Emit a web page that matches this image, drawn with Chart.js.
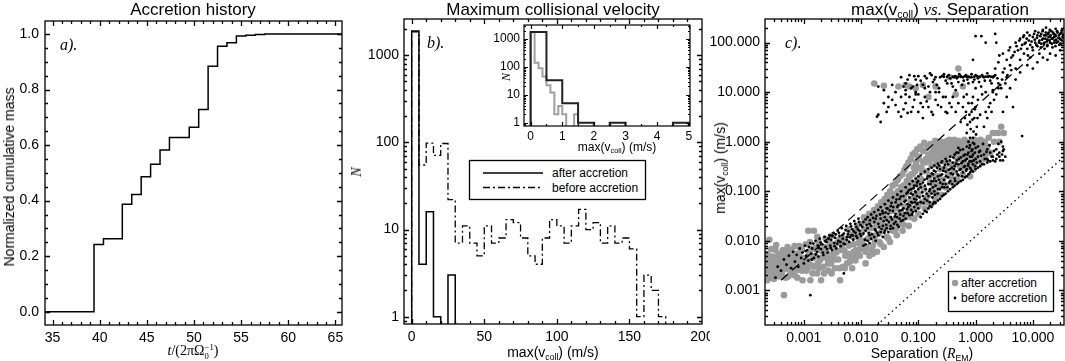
<!DOCTYPE html>
<html lang="en">
<head>
<meta charset="UTF-8">
<title>Accretion history and collisional velocity</title>
<script src="https://cdn.jsdelivr.net/npm/chart.js"></script>
<style>
  body { margin:0; background:#fff; width:1065px; height:361px; position:relative; overflow:hidden;
         font-family:"Liberation Sans", Arial, sans-serif; color:#000; }
  canvas { position:absolute; }
  .lbl { position:absolute; white-space:nowrap; transform:translate(-50%,-50%); line-height:1; }
  .left { transform:translate(0,-50%); }
  .rot { transform:translate(-50%,-50%) rotate(-90deg); }
  .title { font-size:17px; }
  .axt { font-size:14px; }
  .small { font-size:12px; }
  .serif { font-family:"Liberation Serif","DejaVu Serif",serif; }
  .it { font-style:italic; }
  .sb { font-size:0.62em; position:relative; top:0.3em; }
  .stk { display:inline-flex; flex-direction:column; vertical-align:middle; font-size:0.62em; line-height:1.05; }
  svg { position:absolute; overflow:visible; }
  svg text { font-family:"Liberation Sans", Arial, sans-serif; font-size:12px; }
</style>
</head>
<body>
<canvas id="chartA" width="355" height="361" style="left:0;top:0"></canvas>
<canvas id="chartB" width="360" height="361" style="left:350px;top:0"></canvas>
<canvas id="chartC" width="355" height="361" style="left:710px;top:0"></canvas>
<canvas id="chartInset" width="225" height="140" style="left:470px;top:20px"></canvas>

<!-- titles and axis titles -->
<div class="lbl title" style="left:193px;top:9px">Accretion history</div>
<div class="lbl title" style="left:553px;top:9px">Maximum collisional velocity</div>
<div class="lbl title" style="left:940px;top:9px">max(v<span class="sb">coll</span>) <span class="serif it">vs.</span> Separation</div>

<div class="lbl axt rot" style="left:9px;top:177px">Normalized cumulative mass</div>
<div class="lbl axt serif" style="left:193px;top:352px"><span class="it">t</span>/(2πΩ<span class="stk"><span>−1</span><span>0</span></span>)</div>

<div class="lbl axt serif it rot" style="left:357px;top:172px">N</div>
<div class="lbl axt" style="left:553px;top:352px">max(v<span class="sb">coll</span>) (m/s)</div>

<div class="lbl axt rot" style="left:720px;top:168px">max(v<span class="sb">coll</span>) (m/s)</div>
<div class="lbl axt" style="left:922px;top:353px">Separation (<span class="serif it">R</span><span class="sb">EM</span>)</div>

<div class="lbl small serif it rot" style="left:506px;top:77px">N</div>
<div class="lbl small" style="left:617px;top:147px">max(v<span class="sb">coll</span>) (m/s)</div>

<div class="lbl serif it left" style="left:60px;top:45px;font-size:16px">a).</div>
<div class="lbl serif it left" style="left:427px;top:43px;font-size:16px">b).</div>
<div class="lbl serif it left" style="left:785px;top:43px;font-size:16px">c).</div>

<!-- legends -->
<svg style="left:469px;top:160px" width="177" height="40">
  <rect x="0.5" y="0.5" width="176" height="39" fill="#fff" stroke="#000" stroke-width="1.3"/>
  <line x1="14" y1="13" x2="74" y2="13" stroke="#000" stroke-width="1.3"/>
  <text x="83" y="17">after accretion</text>
  <line x1="14" y1="27.5" x2="74" y2="27.5" stroke="#000" stroke-width="1.3" stroke-dasharray="7,3,2,3"/>
  <text x="83" y="31.5">before accretion</text>
</svg>
<svg style="left:948px;top:271px" width="106" height="41">
  <rect x="0.5" y="0.5" width="105" height="40" fill="#fff" stroke="#000" stroke-width="1.3"/>
  <circle cx="7" cy="12" r="3.2" fill="rgb(155,155,155)"/>
  <text x="13" y="16">after accretion</text>
  <circle cx="7" cy="27" r="1.4" fill="#000"/>
  <text x="13" y="31">before accretion</text>
</svg>

<script>
// ---- panel a: accretion history (step curve) ----
const accretionTimes = [34.2, 39.4, 40.4, 42.4, 43.4, 44.4, 45.4, 46.4, 47.4, 49.5, 50.5, 51.5, 52.5, 53.5, 54.5, 55.5, 56.5, 57.5, 65.7];
const cumulativeMass = [0, 0.242, 0.263, 0.387, 0.422, 0.486, 0.531, 0.582, 0.627, 0.664, 0.728, 0.884, 0.956, 0.969, 0.993, 0.996, 0.998, 1.0, 1.0];

// ---- panel b: histogram of max collisional velocity, 5 m/s bins ----
const velocityEdges = [0,5,10,15,20,25,30,35,40,45,50,55,60,65,70,75,80,85,90,95,100,105,110,115,120,125,130,135,140,145,150,155,160,165,170,175];
const countsAfter  = [1900,4,16,1,0,3,0,0,0,0,0,0,0,0,0,0,0,0,0,0,0,0,0,0,0,0,0,0,0,0,0,0,0,0,0];
const countsBefore = [1850,55,98,71,97,22,7,11,7,5,11,7,8,13,12,8,5,4,8,13,11,7,11,17,10,12,7,11,7,8,6,1,3,2,1];

// ---- inset: low-velocity zoom ----
const insetFineEdges   = [0,0.125,0.25,0.375,0.5,0.625,0.75,0.875,1,1.125,1.25,1.375,1.5];
const insetFineCounts  = [1800,140,90,45,22,12,2,4,2,0,0,2];
const insetCoarseEdges = [0,0.5,1,1.5,2,2.5,3,3.5,4,4.5,5];
const insetCoarseCounts = [1800,33,5,1,0,1,0,0,0,1];

// ---- panel c: max(vcoll) vs separation ----
const afterAccretionPts = [
  [2.2e-4,.0025],[2.2e-4,.0045],[2.3e-4,.0016],[2.5e-4,.0032],[2.5e-4,.0105],[2.7e-4,.0022],[2.8e-4,.0048],[3e-4,.0017],[3e-4,.003],
  [3.2e-4,.0065],[3.3e-4,.0024],[3.5e-4,.004],[3.7e-4,.0019],[3.8e-4,.003],[4e-4,.0055],[4.2e-4,.0025],[4.5e-4,.0035],[4.5e-4,.0008],
  [4.8e-4,.0018],[5e-4,.0045],[5.3e-4,.0028],[5.5e-4,.0062],[5.8e-4,.0022],[6e-4,.0038],[6.5e-4,.003],[6.8e-4,.005],[7e-4,.002],
  [7.5e-4,.0042],[8e-4,.0026],[8.5e-4,.006],[9e-4,.0033],[9.5e-4,.0016],[1e-3,.0045],
  [2.4e-4,.0019],[2.6e-4,.0038],[2.9e-4,.0026],[3.1e-4,.0044],[3.4e-4,.0032],[3.6e-4,.0052],[4.1e-4,.0034],[4.4e-4,.0046],
  [4.7e-4,.0027],[5.1e-4,.0036],[5.6e-4,.0042],[6.2e-4,.0028],[6.6e-4,.0045],[7.2e-4,.0032],[7.8e-4,.0055],[8.2e-4,.0036],
  [8.8e-4,.0046],[9.3e-4,.0025],
  [2.1e-4,.0035],[2.3e-4,.0055],[2.4e-4,.0028],[2.6e-4,.0018],[2.7e-4,.0068],[2.9e-4,.004],[3.1e-4,.0021],[3.3e-4,.0082],
  [3.4e-4,.0048],[3.6e-4,.0026],[3.9e-4,.0042],[4.1e-4,.0021],[4.3e-4,.0065],[4.6e-4,.0052],[4.9e-4,.0032],[5.2e-4,.0075],
  [5.4e-4,.0019],[5.7e-4,.0052],[6.1e-4,.0065],[6.4e-4,.0024],[6.9e-4,.0078],[7.3e-4,.0055],[7.7e-4,.0018],[8.3e-4,.0078],
  [8.7e-4,.0028],[9.2e-4,.0068],[9.8e-4,.0028],
  [1.1e-3,.0025],[1.2e-3,.016],[1.2e-3,.004],[1.3e-3,.0016],[1.4e-3,.007],[1.5e-3,.003],[1.5e-3,.016],[1.6e-3,.005],[1.7e-3,.0022],
  [1.8e-3,.0095],[1.9e-3,.004],[2e-3,.0016],[2.1e-3,.006],[2.2e-3,.003],[2.4e-3,.011],[2.5e-3,.0045],[2.7e-3,.0025],[2.8e-3,.0075],
  [3e-3,.0035],[3.2e-3,.013],[3.3e-3,.0055],[3.5e-3,.0028],[3.8e-3,.009],[4e-3,.0042],[4.3e-3,.0016],[4.5e-3,.0065],[4.8e-3,.003],
  [5e-3,.011],[5.3e-3,.005],[5.7e-3,.0035],[6e-3,.017],[6.2e-3,.008],[6.5e-3,.0045],[7e-3,.0028],[7.2e-3,.012],[7.5e-3,.006],
  [8e-3,.004],[8.5e-3,.02],[9e-3,.009],[9.5e-3,.005],[1e-2,.014],
  [1.05e-3,.0035],[1.25e-3,.0055],[1.35e-3,.0032],[1.45e-3,.0045],[1.65e-3,.0072],[1.75e-3,.0035],[1.95e-3,.0065],[2.05e-3,.0045],
  [2.3e-3,.0075],[2.6e-3,.0055],[2.9e-3,.009],[3.1e-3,.0045],[3.4e-3,.0075],[3.7e-3,.0058],[4.1e-3,.0105],[4.6e-3,.0085],
  [5.1e-3,.0065],[5.5e-3,.0095],[6.1e-3,.0055],[6.7e-3,.013],[7.4e-3,.0085],[7.9e-3,.016],[8.2e-3,.0065],[8.8e-3,.012],[9.7e-3,.0085],
  [1.08e-3,.0085],[1.18e-3,.0028],[1.28e-3,.0095],[1.42e-3,.0022],[1.55e-3,.0068],[1.72e-3,.012],[1.85e-3,.0028],[2.25e-3,.0022],
  [2.45e-3,.0068],[2.65e-3,.0035],[3.05e-3,.0022],[3.6e-3,.0042],[4.2e-3,.0028],[5.2e-3,.0028],[6.4e-3,.0038],[7.7e-3,.0052],
  [9.2e-3,.0065],
  [1.1e-2,.007],[1.2e-2,.0035],[1.2e-2,.025],[1.3e-2,.011],[1.4e-2,.005],[1.5e-2,.018],[1.6e-2,.008],[1.7e-2,.035],[1.8e-2,.013],
  [1.9e-2,.006],[2e-2,.025],[2.1e-2,.0095],[2.2e-2,.045],[2.3e-2,.016],[2.5e-2,.0075],[2.6e-2,.03],[2.8e-2,.012],[3e-2,.06],[3e-2,.02],
  [3.2e-2,.0095],[3.4e-2,.04],[3.6e-2,.016],[3.8e-2,.085],[4e-2,.028],[4.2e-2,.013],[4.5e-2,.055],[4.7e-2,.022],[5e-2,.12],[5e-2,.038],
  [5.3e-2,.016],[5.6e-2,.075],[6e-2,.03],[6.3e-2,.16],[6.5e-2,.05],[6.8e-2,.02],[7e-2,.1],[7.5e-2,.04],[8e-2,.22],[8e-2,.07],
  [8.5e-2,.028],[9e-2,.14],[9.5e-2,.05],[.1,.3],[.1,.09],[.1,.035],
  [1.05e-2,.01],[1.15e-2,.017],[1.25e-2,.0075],[1.35e-2,.021],[1.45e-2,.013],[1.55e-2,.0065],[1.65e-2,.025],[1.75e-2,.01],
  [1.85e-2,.02],[1.95e-2,.035],[2.05e-2,.014],[2.15e-2,.03],[2.4e-2,.022],[2.45e-2,.055],[2.7e-2,.018],[2.9e-2,.04],[3.1e-2,.028],
  [3.3e-2,.07],[3.5e-2,.025],[3.7e-2,.05],[3.9e-2,.02],[4.1e-2,.045],[4.4e-2,.1],[4.6e-2,.033],[4.9e-2,.065],[5.2e-2,.028],
  [5.5e-2,.13],[5.8e-2,.05],[6.1e-2,.09],[6.6e-2,.036],[6.9e-2,.2],[7.3e-2,.065],[7.8e-2,.13],[8.3e-2,.045],[8.8e-2,.25],
  [9.2e-2,.085],[9.8e-2,.17],
  [.0102,.022],[.0112,.03],[.0128,.026],[.0138,.035],[.0152,.03],[.0168,.042],[.0182,.028],[.0198,.05],[.0212,.04],[.0225,.06],
  [.0242,.035],[.0258,.07],[.0272,.05],[.0288,.085],[.0302,.045],[.0322,.1],[.0338,.06],[.0355,.13],[.0372,.075],[.0395,.14],
  [.0418,.09],[.0438,.17],[.0458,.075],[.0478,.2],[.0505,.1],[.0528,.22],[.0545,.085],[.0572,.27],[.0592,.13],[.0618,.32],
  [.0645,.11],[.0672,.38],[.0705,.17],[.0735,.45],[.0762,.22],[.0795,.55],[.0835,.3],[.0865,.6],[.0905,.38],[.0955,.7],[.0985,.45],
  [.012,.006],[.016,.0055],[.022,.0085],[.03,.011],[.04,.017],[.055,.021],[.075,.03],[.1,.05],[.14,.06],[.2,.09],[.3,.13],
  [.11,.18],[.115,.06],[.12,.4],[.125,.11],[.13,.045],[.14,.25],[.145,.08],[.15,.55],[.16,.15],[.165,.055],[.17,.33],[.18,.1],
  [.19,.7],[.2,.2],[.2,.07],[.21,.45],[.22,.13],[.23,.9],[.24,.28],[.25,.085],[.26,.55],[.27,.17],[.28,.4],[.3,1.0],[.3,.12],
  [.32,.65],[.33,.22],[.35,1.1],[.36,.35],[.38,.15],[.4,.75],[.42,.25],[.45,.5],[.48,.18],[.5,.9],[.53,.32],[.56,.6],[.6,.22],
  [.63,.45],[.67,1.0],[.7,.3],[.75,.65],[.8,.2],[.85,.45],[.9,.9],[.95,.35],[1.0,.6],[1.1,1.0],[1.2,.4],[1.3,.75],[1.5,.55],
  [1.7,1.2],[2.0,1.5],[2.3,1.5],[2.8,2.0],
  [.105,.13],[.118,.25],[.135,.07],[.138,.45],[.155,.2],[.175,.6],[.185,.13],[.205,.35],[.215,.8],[.225,.2],[.245,.6],[.255,.14],
  [.275,.75],[.29,.28],[.31,.5],[.34,.85],[.37,.2],[.39,.55],[.43,.9],[.44,.35],[.47,.7],[.52,.45],[.55,.8],[.58,.3],[.62,.7],
  [.65,.35],[.72,.5],[.78,.8],[.82,.38],[.88,.6],[.92,.28],[1.05,.45],[1.15,.7],[1.25,.9],[1.4,.45],[1.6,.8],[1.8,.6],[2.1,1.0],
  [2.5,1.5],[2.6,1.0],[3.1,1.5],
  [.102,.5],[.108,.8],[.113,.3],[.122,.65],[.127,.95],[.132,.38],[.143,.75],[.152,.42],[.162,.9],[.168,.5],[.178,.8],[.192,.45],
  [.198,1.05],[.208,.6],[.218,.42],[.235,.7],[.248,1.0],[.262,.45],[.282,.9],[.295,.6],[.308,.75],[.325,1.05],[.345,.55],
  [.365,.8],[.385,.95],[.41,.65],[.425,1.1],[.45,.75],[.49,.6],[.505,1.05],[.535,.8],[.575,.9],[.595,.55],[.64,1.1],[.69,.7],
  [.73,.95],[.77,.55],[.84,1.0],[.91,.7],[.96,1.1],[1.02,.85],[1.12,.55],[1.22,1.1],[1.35,.6],[1.45,1.0],[1.55,.7],
  [.017,15],[.025,13.5],[.045,13],[.06,14],[.07,13],[.09,12],[.12,14],[.15,8],[.2,13],[.45,9],[.5,30],[.6,13],[.35,20]
];
const beforeAccretionPts = [
  [3.2e-4,.0018],[3.5e-4,.003],[4e-4,.0025],[4.5e-4,.0042],[5e-4,.0033],[5.5e-4,.005],[6e-4,.0028],[6.5e-4,.006],[7e-4,.0038],
  [7.5e-4,.0052],[8e-4,.003],[8.5e-4,.007],[9e-4,.0045],[9.5e-4,.0058],[1e-3,.0035],
  [1.05e-3,.008],[1.1e-3,.005],[1.15e-3,.0065],[1.2e-3,.004],[1.3e-3,.009],[1.3e-3,.0008],[1.35e-3,.0055],[1.4e-3,.007],[1.5e-3,.0045],
  [1.6e-3,.01],[1.7e-3,.006],[1.75e-3,.008],[1.8e-3,.0048],[1.9e-3,.011],[2e-3,.0068],[2.1e-3,.0085],[2.2e-3,.0052],[2.3e-3,.012],
  [2.4e-3,.0075],[2.5e-3,.0095],[2.6e-3,.0058],[2.8e-3,.013],[2.9e-3,.008],[3e-3,.0105],[3.1e-3,.0065],[3.3e-3,.0145],[3.4e-3,.009],
  [3.5e-3,.0115],[3.7e-3,.007],[3.9e-3,.016],[4e-3,.01],[4.2e-3,.0125],[4.4e-3,.0078],[4.6e-3,.018],[4.8e-3,.011],[5e-3,.014],
  [5e-3,.0022],[5.2e-3,.0085],[5.5e-3,.02],[5.7e-3,.012],[6e-3,.0155],[6.2e-3,.0095],[6.5e-3,.022],[6.8e-3,.013],[7e-3,.017],
  [7.3e-3,.0105],[7.6e-3,.025],[8e-3,.0145],[8.3e-3,.019],[8.6e-3,.0115],[9e-3,.028],[9.4e-3,.016],[9.8e-3,.021],[1e-2,.0125],
  [1.07e-3,.0062],[1.23e-3,.0075],[1.38e-3,.0042],[1.47e-3,.0088],[1.62e-3,.0053],[1.84e-3,.0072],[1.97e-3,.0092],[2.15e-3,.0058],
  [2.37e-3,.0098],[2.55e-3,.0068],[2.72e-3,.011],[2.95e-3,.0072],[3.15e-3,.0125],[3.45e-3,.0078],[3.62e-3,.0135],[3.85e-3,.0088],
  [4.1e-3,.0145],[4.35e-3,.0095],[4.7e-3,.013],[4.95e-3,.0088],[5.35e-3,.0165],[5.6e-3,.0105],[5.9e-3,.0135],[6.35e-3,.0118],
  [6.7e-3,.0195],[7.15e-3,.0128],[7.45e-3,.0155],[7.9e-3,.022],[8.2e-3,.0125],[8.8e-3,.017],[9.2e-3,.024],[9.6e-3,.0138],
  [.011,.008],[.011,.014],[.011,.024],[.012,.0085],[.012,.016],[.012,.027],[.013,.01],[.013,.018],[.013,.03],[.014,.009],[.014,.013],
  [.014,.022],[.015,.011],[.015,.02],[.015,.034],[.017,.012],[.017,.024],[.017,.038],[.018,.01],[.018,.016],[.018,.028],[.02,.013],
  [.02,.022],[.02,.042],[.022,.015],[.022,.028],[.022,.048],[.024,.012],[.024,.02],[.024,.036],[.026,.016],[.026,.03],[.026,.055],
  [.028,.018],[.028,.026],[.028,.045],[.03,.015],[.03,.035],[.03,.065],[.033,.02],[.033,.03],[.033,.05],[.036,.018],[.036,.04],
  [.036,.075],[.04,.024],[.04,.035],[.04,.06],[.043,.021],[.043,.048],[.043,.085],[.047,.028],[.047,.04],[.047,.07],[.05,.025],
  [.05,.055],[.05,.1],[.055,.032],[.055,.045],[.055,.08],[.06,.028],[.06,.065],[.06,.12],[.065,.036],[.065,.055],[.065,.095],
  [.07,.033],[.07,.075],[.07,.14],[.075,.042],[.075,.06],[.075,.11],[.08,.038],[.08,.085],[.08,.16],[.085,.048],[.085,.07],
  [.085,.13],[.09,.04],[.09,.095],[.09,.18],[.095,.055],[.095,.08],[.095,.15],[.1,.045],[.1,.11],[.1,.2],
  [.0105,.019],[.0117,.0105],[.0125,.021],[.0136,.0145],[.0143,.026],[.0155,.0135],[.0162,.029],[.0175,.017],[.0186,.032],
  [.0193,.0145],[.0208,.019],[.0215,.034],[.0228,.0175],[.0236,.04],[.0247,.025],[.0255,.0145],[.0268,.037],[.0275,.021],
  [.029,.045],[.0305,.024],[.0318,.041],[.0325,.0175],[.034,.058],[.0348,.027],[.0365,.048],[.0375,.022],[.039,.031],[.0415,.068],
  [.0425,.03],[.0445,.052],[.0455,.019],[.0485,.034],[.0495,.078],[.052,.042],[.054,.026],[.0575,.062],[.0585,.036],[.062,.09],
  [.0635,.043],[.067,.048],[.0685,.105],[.072,.052],[.0745,.09],[.0775,.034],[.079,.058],[.0825,.115],[.0875,.06],[.088,.1],
  [.0925,.068],[.0935,.13],[.097,.058],[.099,.16],
  [.11,.03],[.11,.06],[.11,.12],[.11,.22],[.12,.035],[.12,.08],[.12,.15],[.13,.04],[.13,.07],[.13,.13],[.13,.25],[.14,.038],
  [.14,.09],[.14,.18],[.15,.045],[.15,.08],[.15,.14],[.15,.28],[.16,.05],[.16,.11],[.16,.2],[.17,.048],[.17,.09],[.17,.16],
  [.17,.3],[.18,.055],[.18,.12],[.18,.22],[.19,.06],[.19,.1],[.19,.18],[.19,.33],[.2,.058],[.2,.13],[.2,.25],[.22,.065],[.22,.11],
  [.22,.2],[.22,.36],[.24,.07],[.24,.15],[.24,.28],[.26,.08],[.26,.12],[.26,.22],[.26,.4],[.28,.085],[.28,.17],[.28,.3],[.3,.09],
  [.3,.14],[.3,.25],[.3,.45],[.33,.1],[.33,.19],[.33,.35],[.36,.11],[.36,.16],[.36,.28],[.36,.5],[.4,.12],[.4,.22],[.4,.38],
  [.43,.13],[.43,.18],[.43,.32],[.43,.55],[.47,.14],[.47,.25],[.47,.42],[.5,.15],[.5,.21],[.5,.35],[.5,.6],[.5,.75],[.55,.16],
  [.55,.28],[.55,.48],[.6,.17],[.6,.24],[.6,.4],[.6,.7],[.65,.19],[.65,.32],[.65,.55],[.7,.2],[.7,.28],[.7,.45],[.7,.8],[.75,.22],
  [.75,.36],[.75,.6],[.8,.24],[.8,.3],[.8,.5],[.8,.85],[.85,.26],[.85,.4],[.85,.65],[.9,.25],[.9,.35],[.9,.55],[.9,.95],[1.0,.28],
  [1.0,.45],[1.0,.75],[1.1,.3],[1.1,.5],[1.1,.8],[1.2,.32],[1.2,.4],[1.2,.65],[1.4,.35],[1.4,.55],[1.6,.38],[1.6,.45],[1.6,.7],
  [1.8,.4],[1.8,.6],[2.0,.42],[2.0,.5],[2.3,.45],[2.3,.7],[2.6,.5],[2.6,.6],[3.0,.42],[3.0,.65],[3.0,.8],
  [.105,.075],[.108,.14],[.117,.095],[.123,.058],[.128,.17],[.135,.11],[.142,.065],[.148,.2],[.155,.1],[.158,.06],[.163,.14],
  [.172,.23],[.176,.075],[.183,.16],[.187,.26],[.195,.085],[.205,.16],[.212,.3],[.218,.09],[.228,.17],[.232,.33],[.238,.11],
  [.245,.21],[.252,.38],[.265,.14],[.272,.26],[.285,.12],[.292,.34],[.305,.2],[.315,.4],[.322,.12],[.338,.27],[.345,.15],
  [.355,.42],[.37,.23],[.385,.3],[.392,.14],[.41,.48],[.418,.28],[.44,.16],[.455,.36],[.462,.6],[.485,.22],[.51,.45],[.525,.27],
  [.54,.68],[.565,.37],[.58,.2],[.615,.52],[.625,.31],[.66,.42],[.685,.26],[.72,.55],[.74,.33],[.78,.75],[.79,.4],[.82,.28],
  [.87,.5],[.88,.7],[.93,.42],[.97,.6],[.98,.32],
  [1.05,.38],[1.15,.62],[1.25,.52],[1.3,.35],[1.35,.9],[1.45,.45],[1.55,.62],[1.65,.42],[1.75,.85],[1.9,.5],[2.1,.65],[2.2,.4],
  [2.4,.55],[2.5,.9],[2.7,.42],[2.9,.55],[3.1,.7],[3.3,.5],[2.8,1.0],
  [.05,20],[.06,15],[.07,22],[.08,13],[.09,18],[.1,21],[.12,14],[.14,19],[.16,24],[.18,16],[.2,20],[.23,12],[.26,21],[.3,17],
  [.34,22],[.38,15],[.42,20],[.47,19],[.52,23],[.58,14],[.65,21],[.72,18],[.8,20],[.9,16],[1.0,22],[1.1,19],[1.25,13],[1.4,20],
  [1.6,24],[1.8,17],[2.0,20],[2.2,22],
  [.055,13],[.065,18],[.075,12],[.085,21],[.095,14],[.11,17],[.13,21],[.15,13],[.17,22],[.19,18],[.21,14],[.24,20],[.28,23],
  [.32,15],[.36,19],[.4,13],[.44,21],[.5,16],[.55,21],[.62,17],[.68,22],[.75,15],[.85,23],[.95,18],[1.05,21],[1.15,16],[1.3,22],
  [1.45,17],[1.7,21],[1.9,15],[2.1,21],[2.4,19],[.7,20.5],[.95,20.5],[1.1,20.5],[1.35,20.5],[1.65,20.5],[1.85,20.5],[2.05,20.5],
  [.45,20.5],[.28,20.5],[.55,20.5],
  [.06,11],[.09,9],[.13,12],[.2,10],[.3,8],[.45,11],[.7,9],[1.0,12],[1.5,10],[2.0,11],
  [.32,20.5],[.4,20.5],[.5,20.5],[.6,20],[.75,20.5],[.85,20],[1.2,20.5],[1.5,20.5],
  [.02,3.5],[.022,2.5],[.025,6],[.028,4],[.03,5],[.035,7],[.04,10],[.045,4],[.05,8],[.055,4.5],[.06,6],[.065,3.8],[.07,8],
  [.08,5],[.09,10],[.1,4],[.11,6],[.12,3],[.13,8],[.15,5],[.17,4],[.2,7],[.23,10],[.25,5],[.3,4],[.35,6],[.4,8],
  [.03,8],[.04,5.5],[.05,3.2],[.06,9],[.075,4],[.085,7],[.1,9],[.12,5],[.14,6.5],[.16,10],[.18,3.5],[.22,5.5],[.27,8],[.32,3.8],
  [.38,5],[.45,4],[.5,6],
  [.55,2.5],[.6,5],[.65,3],[.7,1.5],[.75,6],[.8,2.5],[.85,4],[.9,1.2],[.9,8],[.95,3],[1.0,5],[1.05,2],[1.1,7],[1.2,3.5],
  [1.3,9],[1.5,4],[1.8,6],[2,10],[.95,.9],[.02,13],[.025,11],[.035,14],[.019,3.2],
  [.62,8],[.68,4],[.72,2.2],[.78,3.5],[.82,1.8],[.86,6],[.88,2.8],[.92,1.6],[.97,4.5],[1.02,1.4],[1.08,3],[.75,1.0],[.8,1.2],
  [1.4,2],[1.6,3],[1.7,5],[1.9,4],[2.1,7],[2.3,9],[2.5,12],[2.7,14],[2.9,18],[3.3,15],[3.6,22],[4.2,28],
  [2.5,40],[3,25],[3,60],[3.5,45],[4,35],[4,80],[4.5,55],[5,30],[5,100],[5.5,70],[6,45],[6,120],[6.5,90],[7,60],[7,140],
  [7.5,100],[8,75],[8,160],[8.5,110],[9,90],[9,50],[10,130],[10,70],[11,100],[11,170],[12,85],[12,140],[13,110],[13,60],
  [14,150],[14,95],[15,120],[15,180],[16,100],[16,75],[17,140],[17,200],[18,115],[18,90],[19,160],[20,130],[20,100],[21,170],
  [22,120],[22,80],[23,150],[24,110],[25,190],[25,135],[26,100],[27,160],[28,125],[29,90],[30,150],[31,115],[32,175],[33,130],
  [35,100],[3.5,20],[6.5,1.3],[1.26,135],[1.5,100],[1.0,135],[2.2,150],[2.3,100],[.9,45],
  [4.2,50],[4.8,65],[5.2,85],[5.8,110],[6.2,75],[6.8,130],[7.2,95],[7.8,120],[8.2,55],[8.8,140],[9.5,105],[9.8,80],[10.5,150],
  [10.8,115],[11.5,90],[11.8,125],[12.5,160],[12.8,100],[13.5,135],[13.8,80],[14.5,115],[14.8,170],[15.5,95],[15.8,140],
  [16.5,120],[16.8,160],[17.5,105],[17.8,85],[18.5,150],[18.8,130],[19.5,110],[19.8,180],[20.5,140],[21.5,95],[21.8,120],
  [22.5,160],[23.5,130],[23.8,100],[24.5,145],[24.8,85],[25.5,115],[26.5,170],[27.5,105],[28.5,140],[29.5,120],[30.5,95],
  [31.5,160],[32.5,110],[33.5,145],[34.5,125],[20,60],[15,50],[25,55],[12,40],[30,70],[18,45],[8,35],[10,30],[6,25],[5,18],
  [4,12],[3.5,8],[4.5,5],[3,4],[2.8,12],[2.5,15],[3.2,30],[2.2,30],[2.6,55],[3.8,70]
];
const dashedGuide = [[4e-4, 1.6e-3], [35, 200]];
const dottedGuide = [[0.019, 2e-4], [35, 0.5]];

// ---- helpers ----
function histogramPoints(edges, counts, floor) {
  const pts = [{x: edges[0], y: floor}];
  counts.forEach((c, i) => pts.push({x: edges[i], y: c > 0 ? c : floor}));
  pts.push({x: edges[edges.length - 1], y: floor});
  return pts;
}
const toXY = arr => arr.map(p => ({x: p[0], y: p[1]}));
function range(a, b, step) { const out = []; for (let v = a; v <= b + 1e-9; v += step) out.push(+v.toFixed(6)); return out; }
function logMajors(min, max) { const out = []; for (let e = Math.ceil(Math.log10(min)); Math.pow(10, e) <= max; e++) out.push(Math.pow(10, e)); return out; }
function logMinors(min, max) {
  const out = [];
  for (let e = Math.floor(Math.log10(min)); e <= Math.ceil(Math.log10(max)); e++)
    for (let m = 2; m <= 9; m++) { const v = m * Math.pow(10, e); if (v > min && v < max) out.push(v); }
  return out;
}

// frame with inward ticks on all four sides
const framePlugin = {
  id: 'frame',
  afterDraw(chart, args, o) {
    const {ctx, chartArea: a, scales: {x, y}} = chart;
    ctx.save();
    ctx.strokeStyle = '#000';
    ctx.lineWidth = o.width || 1.3;
    ctx.beginPath();
    const tx = (vals, len) => vals.forEach(v => {
      const p = Math.round(x.getPixelForValue(v)) + 0.5;
      if (p < a.left || p > a.right) return;
      ctx.moveTo(p, a.bottom); ctx.lineTo(p, a.bottom - len);
      ctx.moveTo(p, a.top); ctx.lineTo(p, a.top + len);
    });
    const ty = (vals, len) => vals.forEach(v => {
      const p = Math.round(y.getPixelForValue(v)) + 0.5;
      if (p < a.top || p > a.bottom) return;
      ctx.moveTo(a.left, p); ctx.lineTo(a.left + len, p);
      ctx.moveTo(a.right, p); ctx.lineTo(a.right - len, p);
    });
    tx(o.xMajor, o.major); tx(o.xMinor, o.minor);
    ty(o.yMajor, o.major); ty(o.yMinor, o.minor);
    ctx.stroke();
    ctx.strokeRect(a.left, a.top, a.right - a.left, a.bottom - a.top);
    ctx.restore();
  }
};

function axis(type, min, max, ticks, fmt, size, fontSize, pad, horizontal) {
  return {
    type, min, max,
    grid: {display: false, drawTicks: false},
    border: {display: false},
    ticks: {color: '#000', font: {family: 'Liberation Sans', size: fontSize}, padding: pad,
            autoSkip: false, maxRotation: 0, callback: v => fmt(v)},
    afterBuildTicks: s => { s.ticks = ticks.map(v => ({value: v})); },
    afterFit: s => {
      if (horizontal) { s.height = size; s.paddingLeft = 0; s.paddingRight = 0; }
      else { s.width = size; s.paddingTop = 0; s.paddingBottom = 0; }
    }
  };
}

function baseOptions(padding, xAxis, yAxis, frame) {
  return {
    responsive: false, animation: false, events: [],
    layout: {padding, autoPadding: false},
    plugins: {legend: {display: false}, tooltip: {enabled: false}, frame},
    scales: {x: xAxis, y: yAxis}
  };
}

Chart.register(framePlugin);

// ---- panel a ----
const aX = range(35, 65, 5), aY = range(0, 1, 0.2);
new Chart(document.getElementById('chartA'), {
  type: 'line',
  data: {datasets: [{
    data: accretionTimes.map((t, i) => ({x: t, y: cumulativeMass[i]})),
    stepped: true, borderColor: '#000', borderWidth: 1.5, pointRadius: 0, fill: false
  }]},
  options: baseOptions({left: 0, right: 13, top: 21, bottom: 0},
    axis('linear', 34.2, 65.7, aX, v => String(v), 36, 14, 5, true),
    axis('linear', -0.048, 1.047, aY, v => v.toFixed(1), 45, 14, 6, false),
    {xMajor: aX, xMinor: range(35, 65, 1), yMajor: aY, yMinor: range(0, 1, 0.05), major: 5, minor: 3})
});

// ---- panel b ----
const bYmin = 0.825, bYmax = 2600;
const bX = range(0, 200, 50), bY = [1, 10, 100, 1000];
new Chart(document.getElementById('chartB'), {
  type: 'line',
  data: {datasets: [
    {data: histogramPoints(velocityEdges, countsAfter, 0.3), stepped: true, borderColor: '#000',
     borderWidth: 1.5, pointRadius: 0, fill: false},
    {data: histogramPoints(velocityEdges, countsBefore, 0.3), stepped: true, borderColor: '#000',
     borderWidth: 1.3, borderDash: [7, 3, 2, 3], pointRadius: 0, fill: false}
  ]},
  options: baseOptions({left: 0, right: 8, top: 19, bottom: 0},
    axis('linear', -5.3, 200, bX, v => String(v), 37, 14, 5, true),
    axis('logarithmic', bYmin, bYmax, bY, v => String(v), 54, 14, 5, false),
    {xMajor: bX, xMinor: range(0, 200, 10), yMajor: bY, yMinor: logMinors(bYmin, bYmax), major: 5, minor: 3})
});

// ---- inset ----
const iYmin = 0.76, iYmax = 3200;
const iX = range(0, 5, 1), iY = [1, 10, 100, 1000];
new Chart(document.getElementById('chartInset'), {
  type: 'line',
  data: {datasets: [
    {data: histogramPoints(insetCoarseEdges, insetCoarseCounts, 0.3), stepped: true, borderColor: '#222',
     borderWidth: 2, pointRadius: 0, fill: false},
    {data: histogramPoints(insetFineEdges, insetFineCounts, 0.3), stepped: true, borderColor: 'rgb(160,160,160)',
     borderWidth: 2, pointRadius: 0, fill: false}
  ]},
  options: baseOptions({left: 0, right: 5, top: 5, bottom: 0},
    axis('linear', -0.21, 5.04, iX, v => String(v), 34, 12, 3, true),
    axis('logarithmic', iYmin, iYmax, iY, v => String(v), 54, 12, 4, false),
    {xMajor: iX, xMinor: range(0, 5, 0.5), yMajor: iY, yMinor: logMinors(iYmin, iYmax), major: 4, minor: 2, width: 1.2})
});

// ---- panel c ----
const cXmin = 2.1e-4, cXmax = 35, cYmin = 2e-4, cYmax = 300;
const cX = logMajors(cXmin, cXmax), cY = logMajors(cYmin, cYmax);
new Chart(document.getElementById('chartC'), {
  type: 'scatter',
  data: {datasets: [
    {data: toXY(beforeAccretionPts), pointRadius: 1.4, backgroundColor: '#000', borderWidth: 0},
    {data: toXY(dashedGuide), showLine: true, borderColor: '#000', borderWidth: 1.2, borderDash: [9, 6], pointRadius: 0},
    {data: toXY(dottedGuide), showLine: true, borderColor: '#000', borderWidth: 1.3, borderDash: [1.5, 3.5], pointRadius: 0},
    {data: toXY(afterAccretionPts), pointRadius: 3.3, backgroundColor: 'rgb(155,155,155)', borderWidth: 0}
  ]},
  options: baseOptions({left: 0, right: 1, top: 19, bottom: 0},
    axis('logarithmic', cXmin, cXmax, cX, v => v.toFixed(3), 36, 14, 5, true),
    axis('logarithmic', cYmin, cYmax, cY, v => v.toFixed(3), 55, 14, 5, false),
    {xMajor: cX, xMinor: logMinors(cXmin, cXmax), yMajor: cY, yMinor: logMinors(cYmin, cYmax), major: 5, minor: 3})
});
</script>
</body>
</html>
